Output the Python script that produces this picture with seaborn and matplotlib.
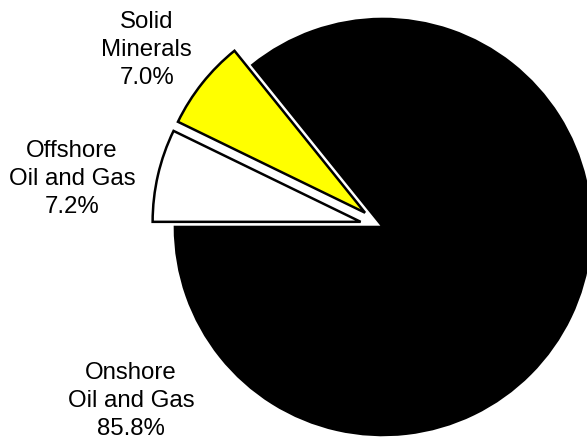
import matplotlib
matplotlib.use("Agg")
import matplotlib.pyplot as plt
import seaborn as sns

# Share of the total by source
categories = ["Onshore\nOil and Gas", "Solid\nMinerals", "Offshore\nOil and Gas"]
shares = [85.8, 7.0, 7.2]
colors = ["#000000", "#FFFF00", "#FFFFFF"]
explode = [0.0, 0.11, 0.11]

# Where each caption block sits (data units, pie radius = 1)
label_xy = [(-1.212, -0.835), (-1.135, 0.850), (-1.495, 0.230)]

sns.set_theme(style="white")
plt.rcParams["font.family"] = ["Liberation Sans", "DejaVu Sans"]

fig = plt.figure(figsize=(5.87, 4.4), dpi=100)
ax = fig.add_axes([0, 0, 1, 1])

palette = sns.color_palette(colors)
ax.pie(
    shares,
    colors=palette,
    explode=explode,
    startangle=180,
    counterclock=True,
    radius=1.0,
    wedgeprops=dict(edgecolor="black", linewidth=1.8),
)

for name, value, (x, y) in zip(categories, shares, label_xy):
    ax.text(x, y, f"{name}\n{value:.1f}%", ha="center", va="center",
            fontsize=17.3, color="black", linespacing=1.36)

ax.set_xlim(-1.841, 0.981)
ax.set_ylim(-1.024, 1.091)
ax.set_aspect("equal", adjustable="datalim")
ax.axis("off")

fig.savefig("out.png", dpi=100)
